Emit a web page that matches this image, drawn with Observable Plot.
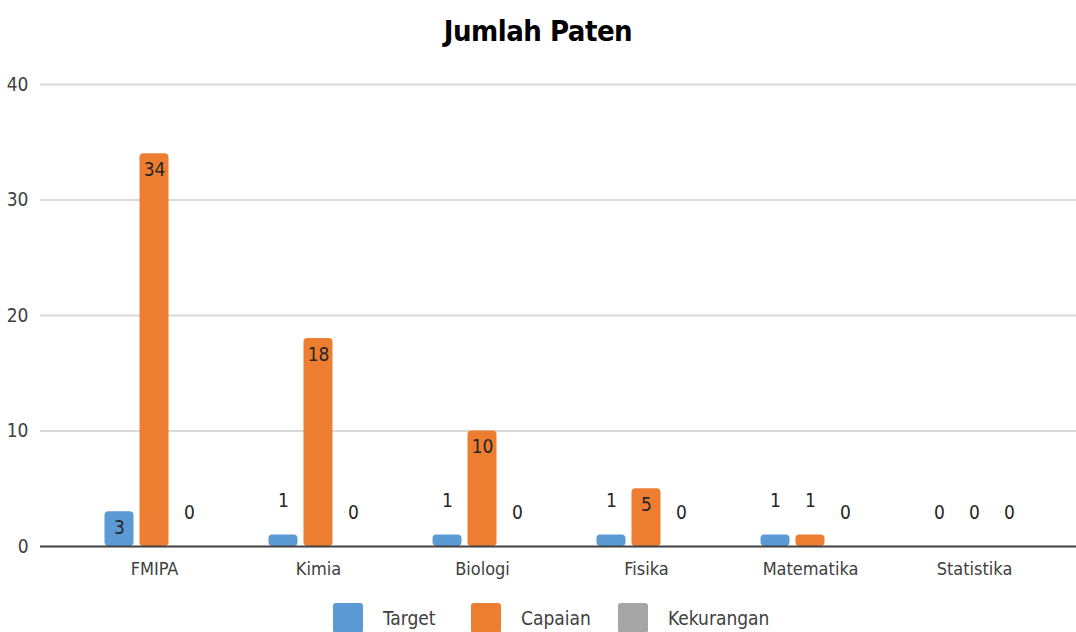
<!DOCTYPE html>
<html>
<head>
<meta charset="utf-8">
<script src="https://cdn.jsdelivr.net/npm/d3@7"></script>
<script src="https://cdn.jsdelivr.net/npm/@observablehq/plot@0.6"></script>
<style>
  body { margin: 0; background: #fff; font-family: "DejaVu Sans Condensed", "DejaVu Sans", sans-serif; font-stretch: condensed; }
  #wrap { width: 1076px; height: 632px; overflow: hidden; position: relative; }
  #title { height: 60px; line-height: 62px; text-align: center; font-size: 29px; font-weight: bold; color: #000; letter-spacing: -0.5px; }
  #legend { position: absolute; top: 603px; left: 0; width: 1076px; height: 40px; }
  .item { position: absolute; top: 0; display: flex; align-items: flex-start; font-size: 19px; color: #404040; }
  .sw { width: 30px; height: 30px; border-radius: 3px; margin-right: 20px; }
  .lbl { margin-top: 4px; }
  svg { display: block; }
  svg text { font-stretch: condensed; }
</style>
</head>
<body>
<div id="wrap">
  <div id="title">Jumlah Paten</div>
  <div id="chart"></div>
  <div id="legend"></div>
</div>
<script>
const categories = ["FMIPA", "Kimia", "Biologi", "Fisika", "Matematika", "Statistika"];
const seriesNames = ["Target", "Capaian", "Kekurangan"];
const target = [3, 1, 1, 1, 1, 0];
const capaian = [34, 18, 10, 5, 1, 0];
const kekurangan = [0, 0, 0, 0, 0, 0];
const yTicks = [0, 10, 20, 30, 40];
const colors = ["#5B9BD5", "#ED7D31", "#A5A5A5"];

const seriesValues = [target, capaian, kekurangan];
const rows = [];
seriesNames.forEach((s, si) => {
  categories.forEach((c, ci) => rows.push({category: c, series: s, value: seriesValues[si][ci]}));
});

const offsets = {Target: -35, Capaian: 0, Kekurangan: 35};
const font = "'DejaVu Sans Condensed', 'DejaVu Sans', sans-serif";

const marks = [
  Plot.ruleY(yTicks.filter(d => d > 0), {stroke: "#d9d9d9", strokeWidth: 2}),
];
seriesNames.forEach((s, si) => {
  const data = rows.filter(r => r.series === s);
  marks.push(Plot.barY(data.filter(r => r.value > 0), {
    x: "category", y: "value", fill: colors[si],
    insetLeft: 67.5, insetRight: 67.5, dx: offsets[s], rx: 4
  }));
  marks.push(Plot.text(data.filter(r => r.value >= 3), {
    x: "category", y: "value", text: d => String(d.value),
    dx: offsets[s], dy: 16, fontSize: 19, fill: "#262626", fontFamily: font
  }));
  marks.push(Plot.text(data.filter(r => r.value < 3), {
    x: "category", y: "value", text: d => String(d.value),
    dx: offsets[s], dy: -34, fontSize: 19, fill: "#262626", fontFamily: font
  }));
});
marks.push(Plot.ruleY([0], {stroke: "#404040", strokeWidth: 2}));
marks.push(Plot.axisY({ticks: yTicks, tickSize: 0, tickPadding: 12, fontSize: 19, fill: "#404040", label: null}));
marks.push(Plot.axisX({tickSize: 0, tickPadding: 16, fontSize: 18, fill: "#404040", label: null}));

const chart = Plot.plot({
  width: 1076,
  height: 527,
  marginTop: 24,
  marginBottom: 41,
  marginLeft: 40,
  marginRight: 0,
  style: {fontFamily: font, background: "#fff", overflow: "visible"},
  x: {type: "band", domain: categories, range: [69.5, 1057.5], padding: 0},
  y: {domain: [0, 40]},
  marks
});
document.getElementById("chart").appendChild(chart);

const legend = document.getElementById("legend");
const lefts = [333, 471, 618];
seriesNames.forEach((s, i) => {
  const it = document.createElement("div");
  it.className = "item";
  it.style.left = lefts[i] + "px";
  it.innerHTML = `<div class="sw" style="background:${colors[i]}"></div><div class="lbl">${s}</div>`;
  legend.appendChild(it);
});
</script>
</body>
</html>
